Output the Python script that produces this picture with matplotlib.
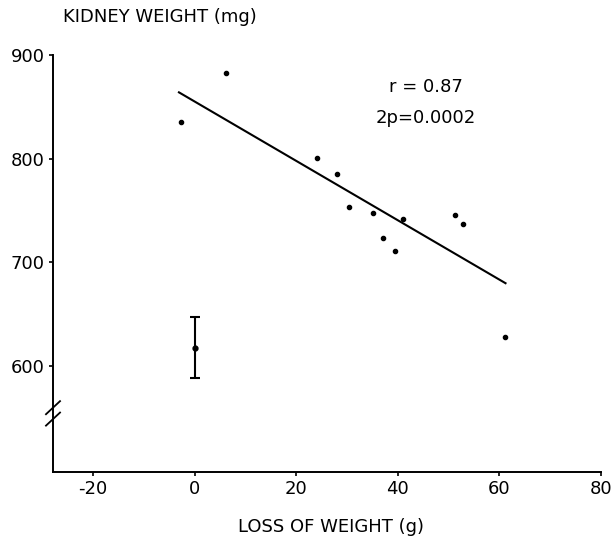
import matplotlib

matplotlib.use("Agg")

import matplotlib.pyplot as plt
import matplotlib.transforms as mtransforms

# data
loss_g = [-2.6, 6.1, 24.0, 28.0, 30.3, 35.2, 37.0, 39.4, 41.1, 51.2, 52.9, 61.0]
kidney_mg = [835, 883, 801, 785, 753, 748, 724, 711, 742, 746, 737, 628]

control_x = [0]
control_mean = [618]
control_err = [29]

fit_x = [-3.1, 61.2]
fit_y = [864, 680]

x_ticks = [-20, 0, 20, 40, 60, 80]
y_ticks = [600, 700, 800, 900]

plt.rcParams['font.family'] = 'DejaVu Sans'
plt.rcParams['font.size'] = 13

fig = plt.figure(figsize=(6.14, 5.39), dpi=100)
ax = fig.add_axes([53 / 614, 1 - 472 / 539, 548 / 614, 417 / 539])

ax.plot(loss_g, kidney_mg, 'o', color='black', markersize=3)
ax.plot(fit_x, fit_y, color='black', linewidth=1.5)
ax.errorbar(control_x, control_mean, yerr=control_err, fmt='o', color='black',
            markersize=3.5, capsize=3.5, elinewidth=1.5, capthick=1.5)

ax.set_xlim(-27.9, 80)
ax.set_ylim(498, 900)
ax.set_xticks(x_ticks)
ax.set_yticks(y_ticks)
ax.set_xticklabels([str(t) for t in x_ticks])

for side in ['top', 'right']:
    ax.spines[side].set_visible(False)
for side in ['left', 'bottom']:
    ax.spines[side].set_linewidth(1.4)
ax.tick_params(direction='out', length=3, width=1.2, pad=3)

# axis break marks on the y axis
trans = mtransforms.blended_transform_factory(ax.transAxes, ax.transData)
for yc in [560, 549]:
    ax.plot([-0.0128, 0.0128], [yc - 6.3, yc + 6.3], color='black',
            linewidth=1.3, transform=trans, clip_on=False)

ax.text(38.2, 869, 'r = 0.87', ha='left', va='center')
ax.text(35.6, 839, '2p=0.0002', ha='left', va='center')

fig.text(63 / 614, 1 - 17 / 539, 'KIDNEY WEIGHT (mg)', ha='left', va='center')
fig.text(331 / 614, 1 - 527 / 539, 'LOSS OF WEIGHT (g)', ha='center', va='center')

fig.savefig('out.png', dpi=100)
